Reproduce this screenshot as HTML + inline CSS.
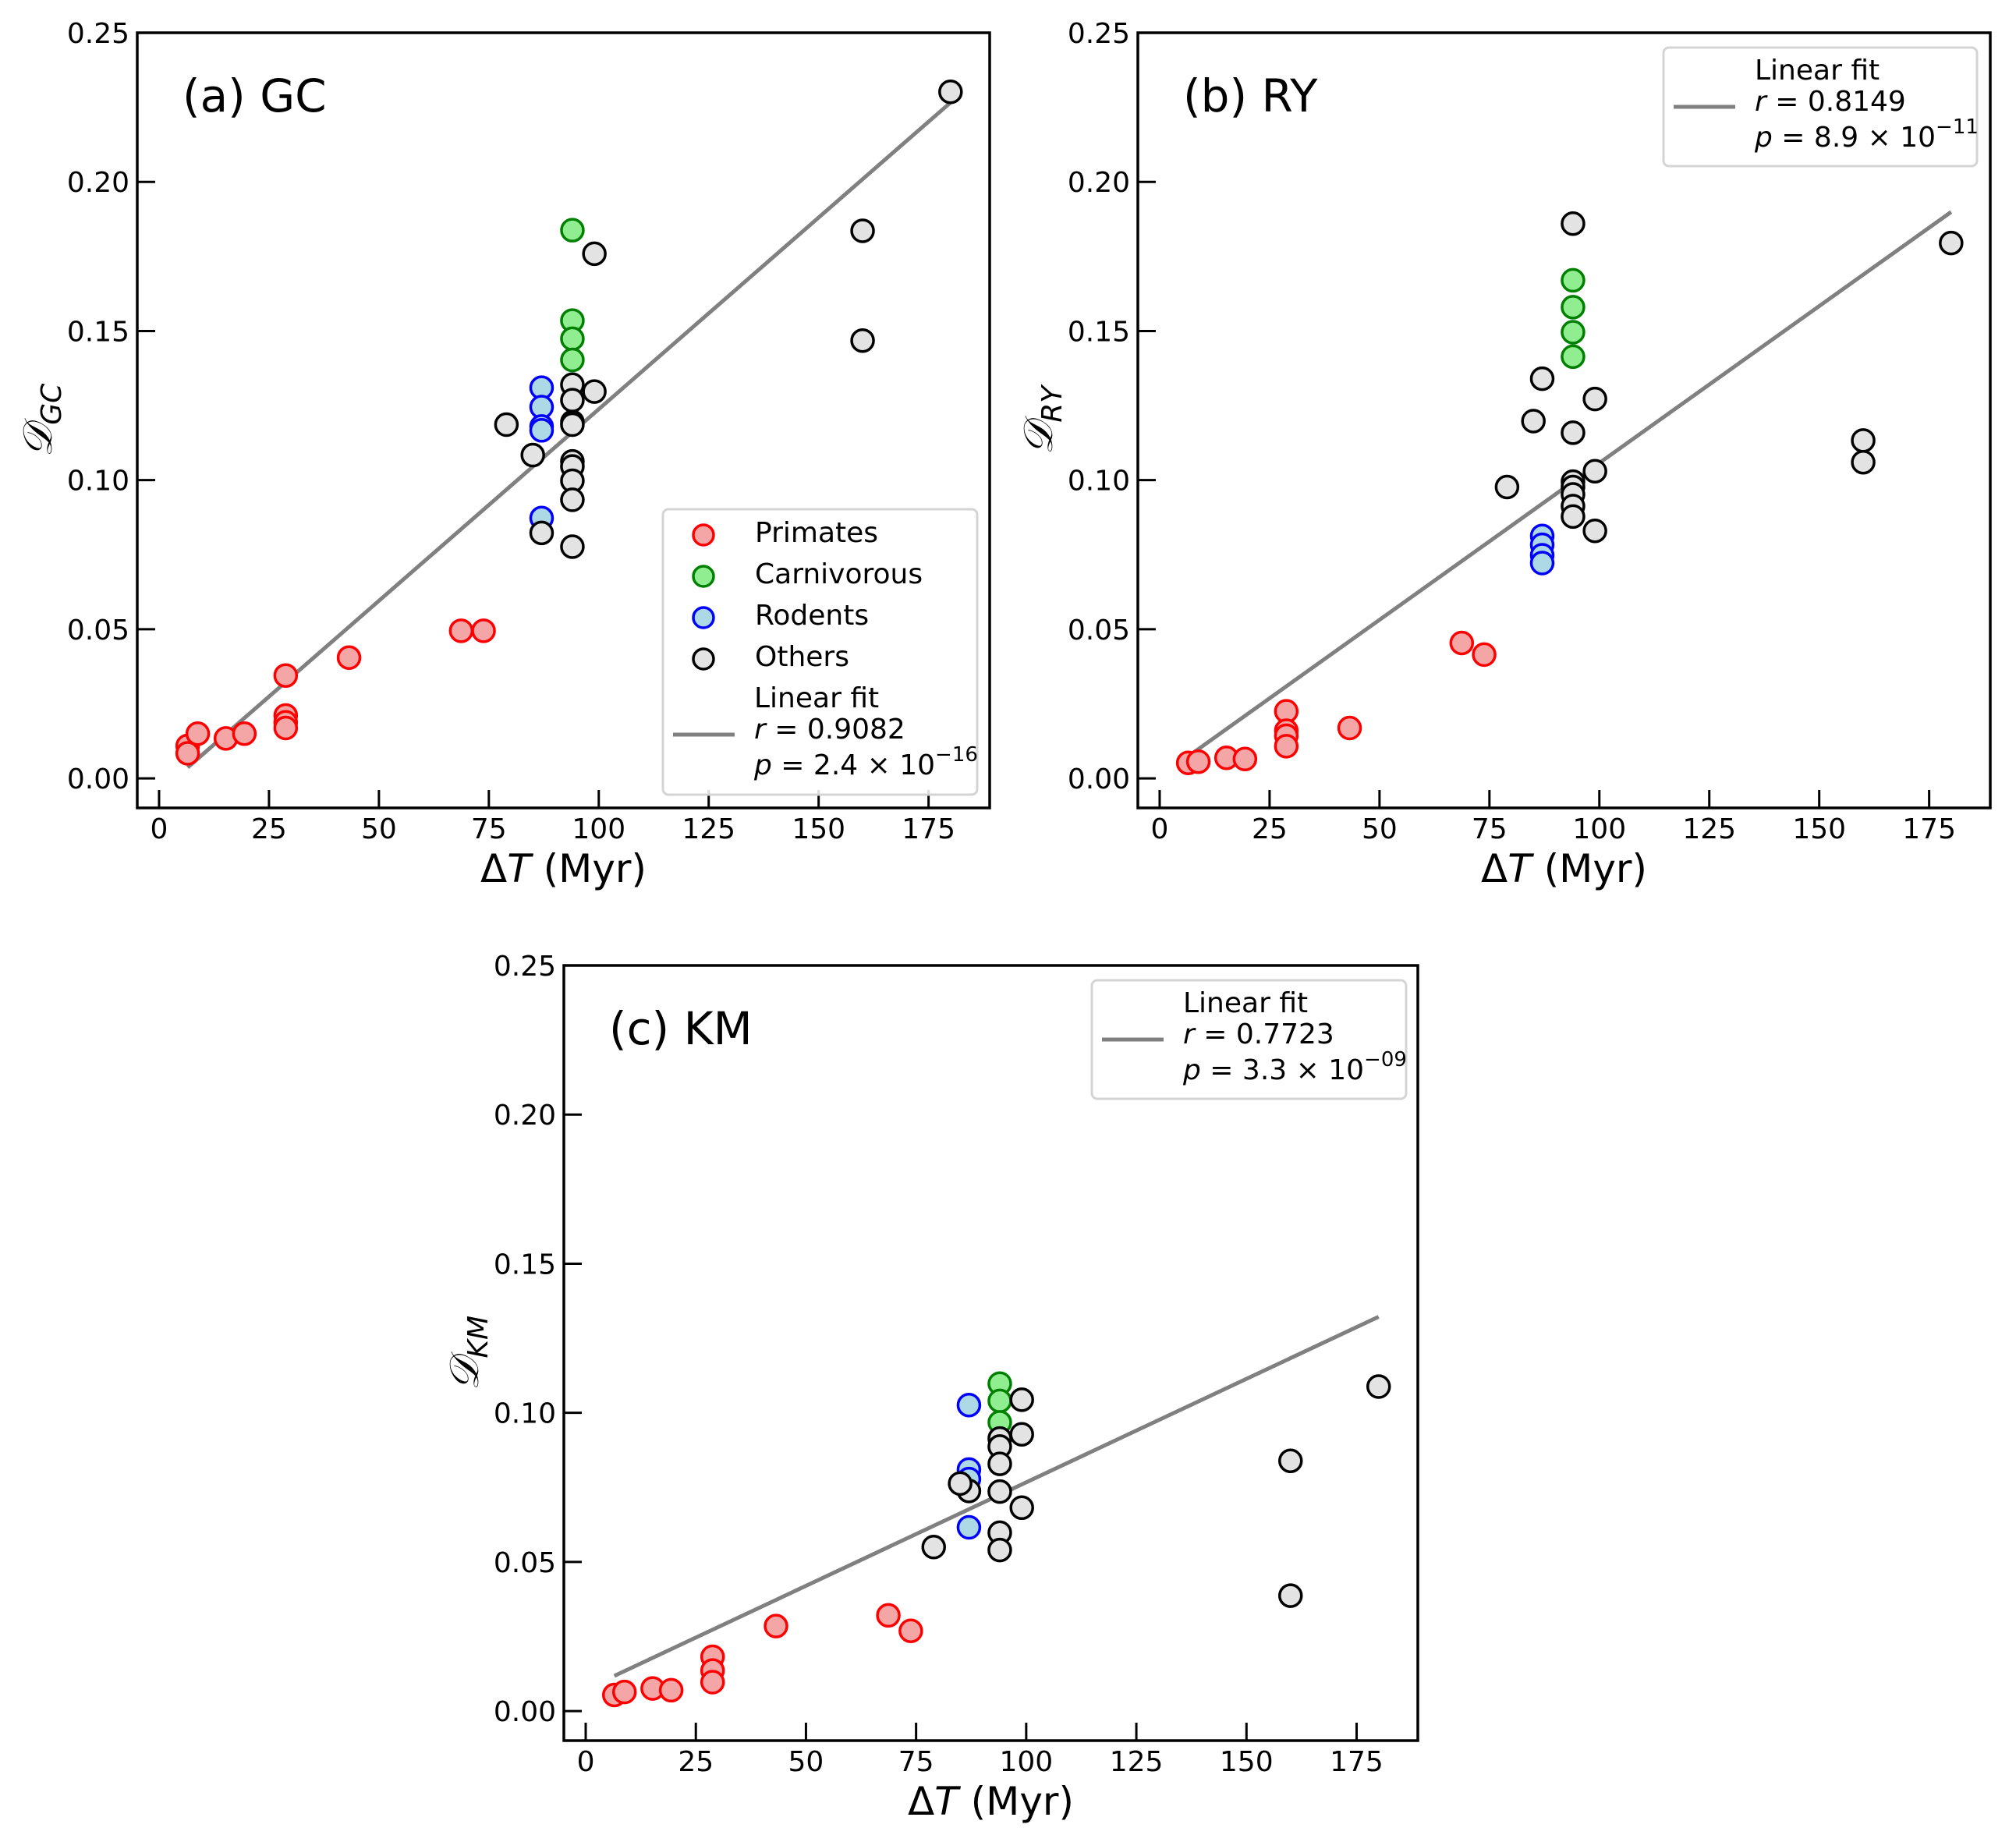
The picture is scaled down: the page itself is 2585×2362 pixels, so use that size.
<!DOCTYPE html>
<html><head><meta charset="utf-8"><style>
html,body{margin:0;padding:0;background:#fff;}
svg{display:block;font-family:"DejaVu Sans","Liberation Sans",sans-serif;}
</style></head><body>
<svg id="fig" width="2585" height="2362" viewBox="0 0 2585 2362" xmlns="http://www.w3.org/2000/svg"></svg>
<script>
const xTicks=[0,25,50,75,100,125,150,175];
const yTicks=[0,0.05,0.10,0.15,0.20,0.25];
const yTickLabels=["0.00","0.05","0.10","0.15","0.20","0.25"];
// Panel (a) GC
const aPrimX=[6.5,6.5,8.8,15.2,19.4,28.8,28.8,28.8,28.8,43.2,68.7,73.8];
const aPrimY=[0.0109,0.0084,0.0150,0.0134,0.0150,0.0345,0.0211,0.0188,0.0169,0.0405,0.0495,0.0495];
const aCarnX=[94,94,94,94];
const aCarnY=[0.1838,0.1535,0.1474,0.1403];
const aRodX=[87,87,87,87,87];
const aRodY=[0.131,0.1245,0.118,0.1167,0.0873];
const aOthX=[180,160,160,99,99,94,94,94,94,94,94,94,94,94,79,85,87];
const aOthY=[0.2302,0.1836,0.1468,0.1759,0.1297,0.132,0.1268,0.1195,0.1186,0.1063,0.1046,0.0998,0.0934,0.0777,0.1186,0.1084,0.0823];
const aFit=[0.001285,-0.0047];
// Panel (b) RY
const bPrimX=[6.5,8.8,15.2,19.4,28.8,28.8,28.8,28.8,43.2,68.7,73.8];
const bPrimY=[0.0052,0.0056,0.0069,0.0065,0.0225,0.016,0.0143,0.0108,0.0169,0.0454,0.0415];
const bCarnX=[94,94,94,94];
const bCarnY=[0.167,0.158,0.1496,0.1414];
const bRodX=[87,87,87,87];
const bRodY=[0.0813,0.0783,0.0748,0.0722];
const bOthX=[180,160,160,99,99,99,94,94,94,94,94,94,94,87,85,79];
const bOthY=[0.1795,0.1133,0.106,0.1272,0.103,0.083,0.186,0.1159,0.0995,0.0977,0.0952,0.0913,0.0878,0.134,0.1198,0.0977];
const bFit=[0.001052,0.00056];
// Panel (c) KM
const cPrimX=[6.5,8.8,15.2,19.4,28.8,28.8,28.8,43.2,68.7,73.8];
const cPrimY=[0.0054,0.0064,0.0076,0.007,0.0182,0.0136,0.0097,0.0285,0.0321,0.0269];
const cCarnX=[94,94,94];
const cCarnY=[0.1098,0.104,0.0968];
const cRodX=[87,87,87,87];
const cRodY=[0.1026,0.081,0.0778,0.0616];
const cOthX=[180,160,160,99,99,99,94,94,94,94,94,94,87,85,79];
const cOthY=[0.1088,0.0839,0.0387,0.1044,0.0928,0.0682,0.0914,0.0887,0.0829,0.0736,0.0598,0.054,0.0738,0.0763,0.055];
const cFit=[0.000694,0.0073];
const fitRange=[6.5,180];

const NS="http://www.w3.org/2000/svg";
const svg=document.getElementById('fig');
function mk(tag,attrs,parent,text){const e=document.createElementNS(NS,tag);for(const k in attrs)e.setAttribute(k,attrs[k]);if(text!==undefined)e.textContent=text;(parent||svg).appendChild(e);return e;}
const styles={prim:['#f4a6a6','#ff0000'],carn:['#90ee90','#008000'],rod:['#add8e6','#0000ff'],oth:['#e3e3e3','#000000']};

function panel(id,L,T,W,H,sets,fit,title,sub,legendFull,leg){
  const g=mk('g',{},svg);
  
  
  const xmin=-4.96,xmax=188.9,ymin=-0.0099,ymax=0.25;
  const sx=v=>L+(v-xmin)/(xmax-xmin)*W;
  const sy=v=>T+H-(v-ymin)/(ymax-ymin)*H;
  // ticks
  xTicks.forEach(t=>{
    const ln=mk('line',{x1:sx(t),x2:sx(t),y1:T+H,y2:T+H-23,stroke:'#000','stroke-width':3},g);
    
    
    const tx=mk('text',{x:sx(t),y:T+H+39,'font-size':36,'text-anchor':'middle'},g,String(t));
    
    
  });
  yTicks.forEach((t,i)=>{
    const ln=mk('line',{x1:L,x2:L+23,y1:sy(t),y2:sy(t),stroke:'#000','stroke-width':3},g);
    
    
    const tx=mk('text',{x:L-10,y:sy(t)+13,'font-size':36,'text-anchor':'end'},g,yTickLabels[i]);
    
    
  });
  // fit line
  const fl=mk('line',{x1:sx(fitRange[0]),y1:sy(fit[0]*fitRange[0]+fit[1]),x2:sx(fitRange[1]),y2:sy(fit[0]*fitRange[1]+fit[1]),stroke:'#808080','stroke-width':5},g);
  
  
  // points
  sets.forEach(s=>{
    const [fill,edge]=styles[s.k];
    s.x.forEach((xv,i)=>{
      const c=mk('circle',{cx:sx(xv),cy:sy(s.y[i]),r:14,fill:fill,stroke:edge,'stroke-width':3.5},g);
      
      
    });
  });
  // frame
  const fr=mk('rect',{x:L,y:T,width:W,height:H,fill:'none',stroke:'#000','stroke-width':3.5},g);
  
  
  const tt=mk('text',{x:L+58,y:T+101,'font-size':58},g,title);
  
  
  const xl=mk('text',{x:L+W/2,y:T+H+95,'font-size':50,'text-anchor':'middle'},g);
  
  
  xl.innerHTML='Δ<tspan font-style="italic">T</tspan> (Myr)';
  const yl=mk('text',{x:0,y:0,'font-size':52,'text-anchor':'middle',transform:`translate(${L-110},${T+H/2}) rotate(-90)`},g);
  
  
  yl.innerHTML='<tspan font-family="DejaVu Serif, Liberation Serif, serif" font-style="italic">𝒟</tspan><tspan font-style="italic" font-size="36" dy="12">'+sub+'</tspan>';
  // legend
  const lg=mk('g',{},g);
  
  
  const lr=mk('rect',{x:leg.x,y:leg.y,width:leg.w,height:leg.h,rx:7,fill:'#fff','fill-opacity':0.85,stroke:'#d4d4d4','stroke-width':3},lg);
  
  
  let y0=leg.y;
  if(legendFull){
    const names=['Primates','Carnivorous','Rodents','Others'],keys=['prim','carn','rod','oth'];
    names.forEach((n,i)=>{
      const [fill,edge]=styles[keys[i]];
      const c=mk('circle',{cx:leg.x+52,cy:leg.y+33+i*53,r:13,fill:fill,stroke:edge,'stroke-width':3.5},lg);
      
      
      const t=mk('text',{x:leg.x+118,y:leg.y+42+i*53,'font-size':36},lg,n);
      
      
    });
    y0=leg.y+213;
  }
  const ls=mk('line',{x1:leg.x+13,x2:leg.x+92,y1:y0+76,y2:y0+76,stroke:'#808080','stroke-width':5},lg);
  
  
  const tx=leg.x+117;
  const t1=mk('text',{x:tx,y:y0+41,'font-size':36},lg,'Linear fit');
  
  
  const t2=mk('text',{x:tx,y:y0+81,'font-size':36},lg);
  
  
  t2.innerHTML='<tspan font-style="italic">r</tspan> = '+leg.r;
  const t3=mk('text',{x:tx,y:y0+127,'font-size':36},lg);
  
  
  t3.innerHTML='<tspan font-style="italic">p</tspan> = '+leg.p+' × 10<tspan font-size="26" dy="-17">'+leg.e+'</tspan>';
}
panel('a',176,42,1093,994,[{k:'prim',x:aPrimX,y:aPrimY},{k:'carn',x:aCarnX,y:aCarnY},{k:'rod',x:aRodX,y:aRodY},{k:'oth',x:aOthX,y:aOthY}],aFit,'(a) GC','GC',true,{x:850,y:653,w:403,h:366,r:'0.9082',p:'2.4',e:'−16'});
panel('b',1459,42,1093,994,[{k:'prim',x:bPrimX,y:bPrimY},{k:'carn',x:bCarnX,y:bCarnY},{k:'rod',x:bRodX,y:bRodY},{k:'oth',x:bOthX,y:bOthY}],bFit,'(b) RY','RY',false,{x:2133,y:61,w:402,h:152,r:'0.8149',p:'8.9',e:'−11'});
panel('c',723,1238,1095,994,[{k:'prim',x:cPrimX,y:cPrimY},{k:'carn',x:cCarnX,y:cCarnY},{k:'rod',x:cRodX,y:cRodY},{k:'oth',x:cOthX,y:cOthY}],cFit,'(c) KM','KM',false,{x:1400,y:1257,w:403,h:152,r:'0.7723',p:'3.3',e:'−09'});
</script>
</body></html>
